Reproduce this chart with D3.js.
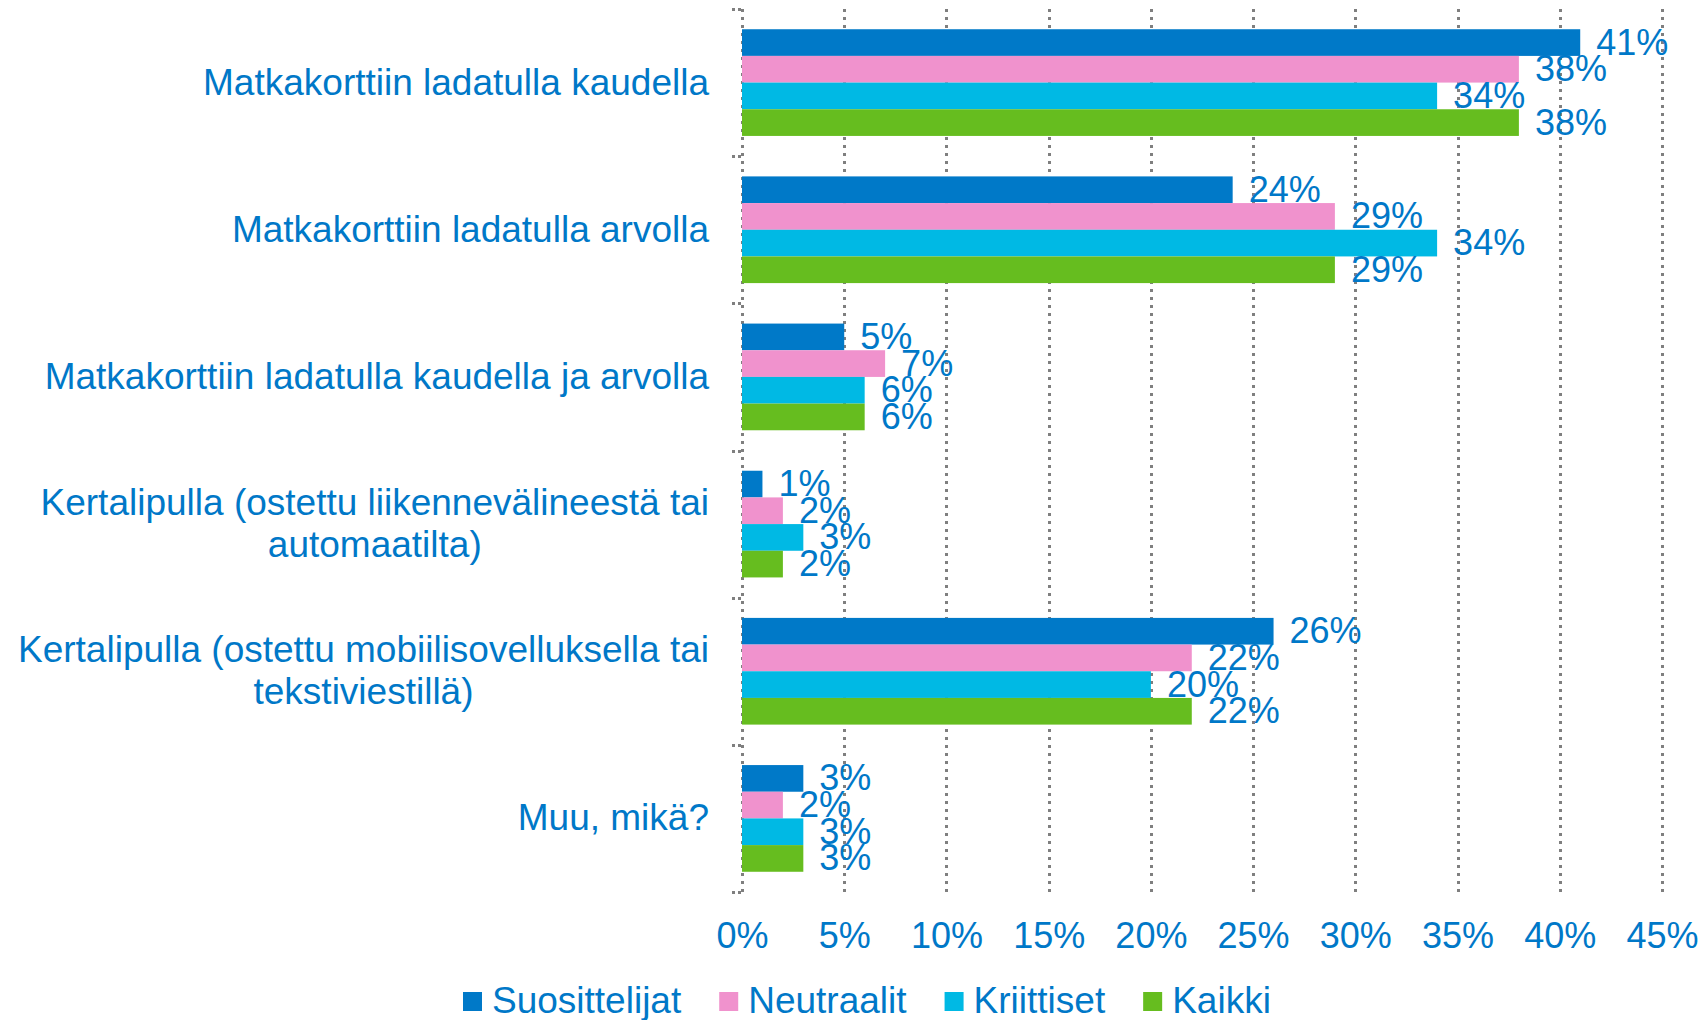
<!doctype html>
<html>
<head>
<meta charset="utf-8"/>
<title>Matkakortti</title>
<script src="https://d3js.org/d3.v7.min.js"></script>
<style>
  body { margin: 0; background: #fff; }
  text { font-family: "Liberation Sans", Arial, sans-serif; fill: #0078C8; }
</style>
</head>
<body>
<script>
// data
var categories = [
  ["Matkakorttiin ladatulla kaudella"],
  ["Matkakorttiin ladatulla arvolla"],
  ["Matkakorttiin ladatulla kaudella ja arvolla"],
  ["Kertalipulla (ostettu liikennevälineestä tai", "automaatilta)"],
  ["Kertalipulla (ostettu mobiilisovelluksella tai", "tekstiviestillä)"],
  ["Muu, mikä?"]
];
var series = ["Suosittelijat", "Neutraalit", "Kriittiset", "Kaikki"];
var colors = ["#0079C8", "#F092CD", "#00B9E4", "#66BD1F"];
var suosittelijat = [41, 24, 5, 1, 26, 3];
var neutraalit    = [38, 29, 7, 2, 22, 2];
var kriittiset    = [34, 34, 6, 3, 20, 3];
var kaikki        = [38, 29, 6, 2, 22, 3];
var ticks = [0, 5, 10, 15, 20, 25, 30, 35, 40, 45];

var values = [suosittelijat, neutraalit, kriittiset, kaikki];

var W = 1706, H = 1020;
var pLeft = 742, pRight = 1662, pTop = 9, pBottom = 892;

var svg = d3.select("body").append("svg")
    .attr("width", W)
    .attr("height", H);

var x = d3.scaleLinear().domain([0, 45]).range([pLeft, pRight]);
var y = d3.scaleBand().domain(d3.range(categories.length))
    .range([pTop, pBottom]).paddingInner(0.275).paddingOuter(0.1375);
var y1 = d3.scaleBand().domain(d3.range(series.length)).range([0, y.bandwidth()]);

// gridlines (snapped to pixels so the dots stay crisp)
svg.append("g").selectAll("line")
    .data(ticks)
    .enter()
    .append("line")
    .attr("x1", function(d){ return Math.round(x(d)) + 0.5; })
    .attr("x2", function(d){ return Math.round(x(d)) + 0.5; })
    .attr("y1", pTop)
    .attr("y2", pBottom)
    .attr("stroke", "#7F7F7F")
    .attr("stroke-width", 3)
    .attr("stroke-dasharray", "3,5");

// small category ticks
var step = y.step();
svg.append("g").selectAll("line")
    .data(d3.range(categories.length + 1))
    .enter()
    .append("line")
    .attr("x1", pLeft - 10)
    .attr("x2", pLeft)
    .attr("y1", function(d){ return Math.round(pTop + d * step) + 0.5; })
    .attr("y2", function(d){ return Math.round(pTop + d * step) + 0.5; })
    .attr("stroke", "#7F7F7F")
    .attr("stroke-width", 3)
    .attr("stroke-dasharray", "3,3");

// bars
var groups = svg.append("g").selectAll("g")
    .data(categories)
    .enter()
    .append("g")
    .attr("transform", function(d, i){ return "translate(0," + y(i) + ")"; });

groups.selectAll("rect")
    .data(function(d, i){ return series.map(function(s, j){ return {j: j, v: values[j][i]}; }); })
    .enter()
    .append("rect")
    .attr("x", x(0))
    .attr("y", function(d){ return y1(d.j); })
    .attr("width", function(d){ return x(d.v) - x(0); })
    .attr("height", y1.bandwidth())
    .attr("fill", function(d){ return colors[d.j]; });

// data labels
groups.selectAll("text")
    .data(function(d, i){ return series.map(function(s, j){ return {j: j, v: values[j][i]}; }); })
    .enter()
    .append("text")
    .attr("x", function(d){ return x(d.v) + 16; })
    .attr("y", function(d){ return y1(d.j) + y1.bandwidth() / 2 + 12; })
    .attr("font-size", 36)
    .text(function(d){ return d.v + "%"; });

// category labels
categories.forEach(function(lines, i) {
  var cy = y(i) + y.bandwidth() / 2;
  var t = svg.append("text").attr("font-size", 37).attr("text-anchor", "middle");
  var spans = lines.map(function(line, k) {
    return t.append("tspan")
      .attr("y", cy + 12 + (k - (lines.length - 1) / 2) * 42)
      .text(line);
  });
  var maxW = d3.max(spans, function(s){ return s.node().getComputedTextLength(); });
  spans.forEach(function(s){ s.attr("x", 709 - maxW / 2); });
});

// x axis labels
var xAxis = d3.axisBottom(x).tickValues(ticks)
    .tickSize(0)
    .tickFormat(function(d){ return d + "%"; });
var ax = svg.append("g").attr("transform", "translate(0," + pBottom + ")").call(xAxis);
ax.select(".domain").remove();
ax.selectAll("text")
    .attr("font-size", 36)
    .attr("font-family", null)
    .attr("fill", "#0078C8")
    .attr("dy", null)
    .attr("y", 56);

// legend
var lx = 463;
series.forEach(function(s, j) {
  svg.append("rect")
    .attr("x", lx).attr("y", 992)
    .attr("width", 19).attr("height", 19)
    .attr("fill", colors[j]);
  var t = svg.append("text")
    .attr("x", lx + 29).attr("y", 1013)
    .attr("font-size", 37)
    .text(s);
  lx += 29 + t.node().getComputedTextLength() + 38;
});
</script>
</body>
</html>
